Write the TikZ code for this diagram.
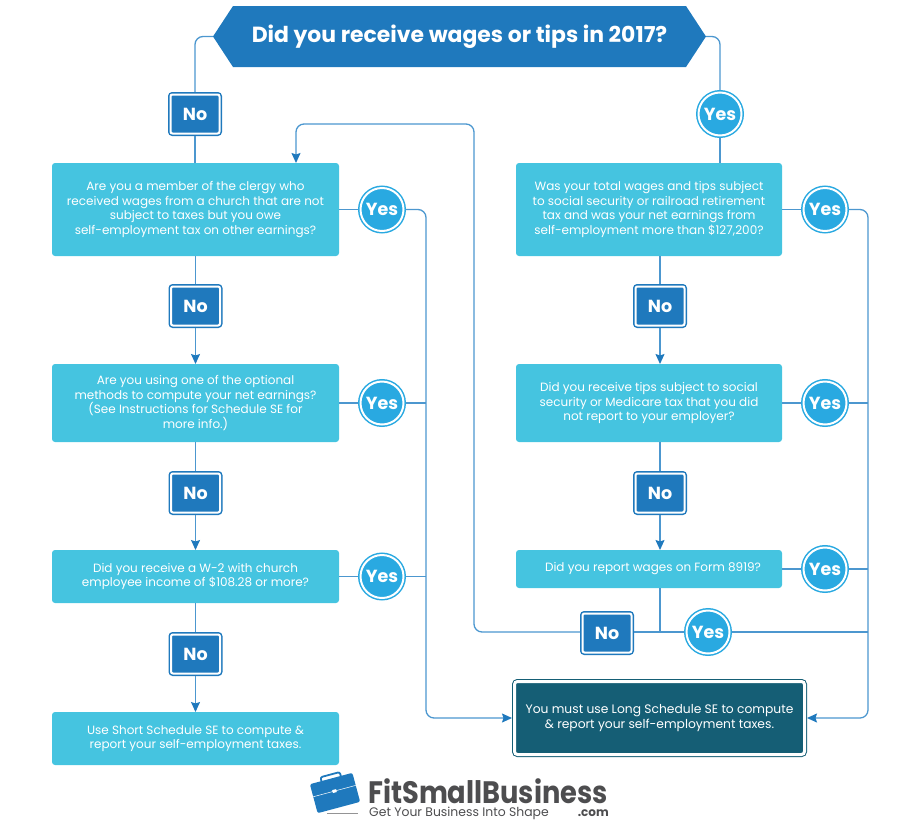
\documentclass[tikz,border=0pt]{standalone}
\usepackage{fontspec}
\setmainfont{Poppins}
\usetikzlibrary{shapes,shapes.symbols,arrows.meta,positioning,calc}
\definecolor{fsbblue}{HTML}{1F79BD}
\definecolor{fsbline}{HTML}{4C97CF}
\definecolor{fsbcyan}{HTML}{45C4E0}
\definecolor{fsbyes}{HTML}{29A9E1}
\definecolor{fsbteal}{HTML}{155E75}
\definecolor{fsbgray}{HTML}{4D4D4F}

\begin{document}
\begin{tikzpicture}[
  x=1pt,y=-1pt,
  banner/.style={shape=signal,signal to=west and east,signal pointer angle=113.5,fill=fsbblue,text=white,minimum width=493pt,minimum height=61pt,inner sep=0pt,outer sep=0pt,font=\fontsize{21.9}{24}\selectfont\bfseries},
  box/.style={fill=fsbcyan,text=white,rounded corners=3pt,minimum width=287pt,outer sep=0pt,inner sep=0pt,align=center,font=\fontsize{12}{14.5}\selectfont},
  rbox/.style={box,minimum width=266pt},
  nobox/.style={draw=fsbblue,double=white,double distance=2pt,line width=1.5pt,fill=fsbblue,text=white,rounded corners=2pt,minimum width=49pt,minimum height=39pt,inner sep=0pt,outer sep=2.5pt,font=\fontsize{17.5}{18}\selectfont\bfseries},
  yesbox/.style={circle,draw=fsbyes,double=white,double distance=2pt,line width=1.5pt,fill=fsbyes,text=white,minimum size=43pt,inner sep=0pt,outer sep=2.5pt,font=\fontsize{17.5}{18}\selectfont\bfseries},
  endbox/.style={draw=fsbteal,double=white,double distance=3pt,line width=1pt,fill=fsbteal,text=white,rounded corners=3pt,minimum width=290pt,minimum height=73pt,inner sep=0pt,outer sep=2.5pt,align=center,font=\fontsize{12.3}{14.5}\selectfont},
  line/.style={color=fsbline,line width=1.3pt,rounded corners=8pt},
  arrow/.style={line,-{Stealth[length=10pt,width=9pt,inset=1.5pt,color=fsbblue]}}
]
\useasboundingbox (0,0) rectangle (920,819);

\node[banner] (start) at (459.5,36.5) {Did you receive wages or tips in 2017?};
\node[nobox] (noTop) at (195,114) {No};
\node[yesbox] (yesTop) at (720,114) {Yes};

% left column
\node[box,minimum height=93pt] (clergy) at (195.5,209.5) {Are you a member of the clergy who\\received wages from a church that are not\\subject to taxes but you owe\\self-employment tax on other earnings?};
\node[yesbox,right=19pt of clergy] (yesClergy) {Yes};
\node[nobox,below=28pt of clergy] (noClergy) {No};
\node[box,minimum height=78pt,below=36pt of noClergy] (optional) {Are you using one of the optional\\methods to compute your net earnings?\\(See Instructions for Schedule SE for\\more info.)};
\node[yesbox,right=19pt of optional] (yesOptional) {Yes};
\node[nobox,below=29pt of optional] (noOptional) {No};
\node[box,minimum height=53pt,below=35pt of noOptional] (church) {Did you receive a W-2 with church\\employee income of \$108.28 or more?};
\node[yesbox,right=19pt of church] (yesChurch) {Yes};
\node[nobox,below=29pt of church] (noChurch) {No};
\node[box,minimum height=53pt,below=36pt of noChurch] (short) {Use Short Schedule SE to compute \&\\report your self-employment taxes.};

% right column
\node[rbox,minimum height=93pt] (wages) at (649,209.5) {Was your total wages and tips subject\\to social security or railroad retirement\\tax and was your net earnings from\\self-employment more than \$127,200?};
\node[yesbox,right=19pt of wages] (yesWages) {Yes};
\node[nobox,below=28pt of wages,xshift=11pt] (noWages) {No};
\node[rbox,minimum height=78pt] (tips) at (649,403) {Did you receive tips subject to social\\security or Medicare tax that you did\\not report to your employer?};
\node[yesbox,right=19pt of tips] (yesTips) {Yes};
\node[nobox,below=29pt of tips,xshift=11pt] (noTips) {No};
\node[rbox,minimum height=38pt] (form) at (649,569) {\hspace*{8pt}Did you report wages on Form 8919?};
\node[yesbox,right=19pt of form] (yesForm) {Yes};
\node[yesbox] (yesLast) at (708,632) {Yes};
\node[nobox] (noLast) at (607,633) {No};
\node[endbox] (long) at (659.5,718) {You must use Long Schedule SE to compute\\\& report your self-employment taxes.};

% rails
\coordinate (railLeft) at (426,718);
\coordinate (railRight) at (868,718);
\coordinate (backUp) at (474,124);
\coordinate (backIn) at (296,124);

\draw[line] (start.west) -| (noTop);
\draw[line] (noTop) -- (clergy.north -| noTop);
\draw[line] (start.east) -| (yesTop);
\draw[line] (yesTop) -- (yesTop |- wages.north);

\draw[line] (clergy) -- (yesClergy);
\draw[line] (clergy) -- (noClergy);
\draw[arrow] (noClergy) -- (optional);
\draw[line] (optional) -- (yesOptional);
\draw[line] (optional) -- (noOptional);
\draw[arrow] (noOptional) -- (church);
\draw[line] (church) -- (yesChurch);
\draw[line] (church) -- (noChurch);
\draw[arrow] (noChurch) -- (short);

\draw[line] (wages) -- (yesWages);
\draw[line] (noWages |- wages.south) -- (noWages);
\draw[arrow] (noWages) -- (noWages |- tips.north);
\draw[line] (tips) -- (yesTips);
\draw[line] (noTips |- tips.south) -- (noTips);
\draw[arrow] (noTips) -- (noTips |- form.north);
\draw[line] (form) -- (yesForm);
\draw[line] (noTips |- form.south) -- (noTips |- yesLast);
\draw[line] (noLast.east |- yesLast) -- (yesLast);

\draw[arrow] (yesClergy.east) -| (railLeft) -- (long.west);
\draw[line] (yesOptional.east) -- (yesOptional.east -| railLeft);
\draw[line] (yesChurch.east) -- (yesChurch.east -| railLeft);
\draw[arrow] (yesWages.east) -| (railRight) -- (long.east);
\draw[line] (yesTips.east) -- (yesTips.east -| railRight);
\draw[line] (yesForm.east) -- (yesForm.east -| railRight);
\draw[line] (yesLast.east) -- (yesLast.east -| railRight);
\draw[arrow] (noLast.west |- yesLast) -| (backUp) -- (backIn) -- (backIn |- clergy.north);

% logo
\begin{scope}[shift={(335,793)},rotate=15]
  \draw[fsbblue,line width=1.8pt,rounded corners=2pt] (-10,-14) -- (-10,-19) -- (10,-19) -- (10,-14);
  \fill[fsbblue,rounded corners=2pt] (-22,-15) rectangle (22,15);
  \draw[white,line width=.5pt] (-22,-2) -- (22,-2);
  \fill[white] (-2,-3.5) rectangle (2,-.5);
\end{scope}
\fill[fsbgray!60] (327,812.5) rectangle (358,813.5);
\node[text=fsbgray,anchor=west,inner sep=0pt,font=\fontsize{31}{31}\selectfont\bfseries,xscale=.88] (brand) at (368,791.5) {FitSmallBusiness};
\node[text=fsbgray,anchor=west,inner sep=0pt,font=\fontsize{12.4}{13}\selectfont] (motto) at (369,813) {Get Your Business Into Shape};
\node[text=fsbgray,anchor=east,inner sep=0pt,font=\fontsize{12}{13}\selectfont\bfseries] (dotcom) at (609,813) {.com};
\end{tikzpicture}
\end{document}
